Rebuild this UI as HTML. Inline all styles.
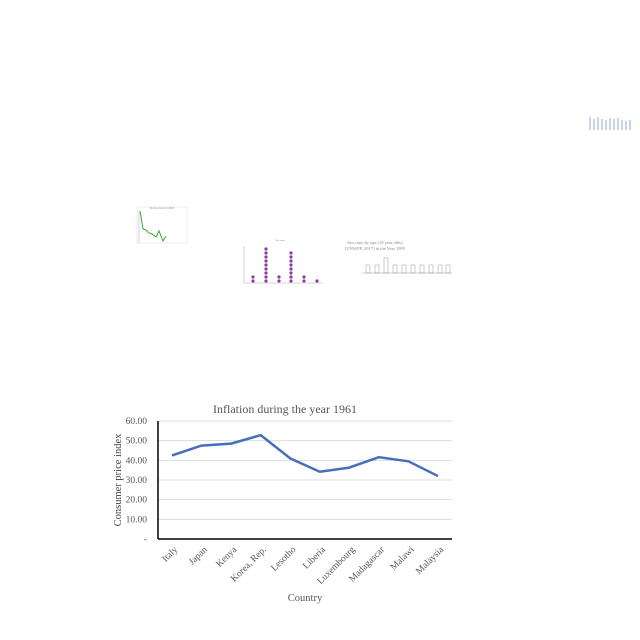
<!DOCTYPE html>
<html><head><meta charset="utf-8"><style>
body{margin:0;background:#fff;}
svg{display:block;font-family:"Liberation Serif",serif;}
</style></head><body>
<svg id="c" width="640" height="640">
  <g>
    <rect x="137" y="207" width="50" height="36" fill="#fff" stroke="#eee"/>
    <text x="162" y="209" font-size="3" text-anchor="middle" fill="#888">Stock prices in 2005</text>
    <line x1="139" y1="211" x2="139" y2="243" stroke="#aaa" stroke-width="0.5"/>
    <polyline points="140,211 143,229 146,230 149,233 152,234 156,237 159,231 163,241 166,236" fill="none" stroke="#3a3" stroke-width="1"/>
  </g>
  <g>
    <text x="280" y="241" font-size="2.5" text-anchor="middle" fill="#888">Dot chart</text>
    <line x1="244" y1="246" x2="244" y2="283" stroke="#aaa" stroke-width="0.5"/>
    <line x1="244" y1="283" x2="322" y2="283" stroke="#aaa" stroke-width="0.5"/>
    <g fill="#8a3aa0">
      <circle cx="253" cy="277" r="1.6"/><circle cx="253" cy="281" r="1.6"/>
      <circle cx="266" cy="249" r="1.6"/><circle cx="266" cy="253" r="1.6"/><circle cx="266" cy="257" r="1.6"/><circle cx="266" cy="261" r="1.6"/><circle cx="266" cy="265" r="1.6"/><circle cx="266" cy="269" r="1.6"/><circle cx="266" cy="273" r="1.6"/><circle cx="266" cy="277" r="1.6"/><circle cx="266" cy="281" r="1.6"/>
      <circle cx="279" cy="277" r="1.6"/><circle cx="279" cy="281" r="1.6"/>
      <circle cx="291" cy="253" r="1.6"/><circle cx="291" cy="257" r="1.6"/><circle cx="291" cy="261" r="1.6"/><circle cx="291" cy="265" r="1.6"/><circle cx="291" cy="269" r="1.6"/><circle cx="291" cy="273" r="1.6"/><circle cx="291" cy="277" r="1.6"/><circle cx="291" cy="281" r="1.6"/>
      <circle cx="304" cy="277" r="1.6"/><circle cx="304" cy="281" r="1.6"/>
      <circle cx="317" cy="281" r="1.6"/>
    </g>
  </g>
  <g>
    <text x="375" y="244" font-size="4.5" text-anchor="middle" fill="#888">Sex ratio by age (10 year olds)</text>
    <text x="375" y="250" font-size="4.5" text-anchor="middle" fill="#888">(UNWPP, 2017) in the Year 1995</text>
    <g fill="#fff" stroke="#999" stroke-width="0.5">
      <rect x="366" y="265" width="4" height="8"/><rect x="375" y="265" width="4" height="8"/><rect x="384" y="258" width="4" height="15"/><rect x="393" y="265" width="4" height="8"/><rect x="402" y="265" width="4" height="8"/><rect x="411" y="265" width="4" height="8"/><rect x="420" y="265" width="4" height="8"/><rect x="429" y="265" width="4" height="8"/><rect x="438" y="265" width="4" height="8"/><rect x="446" y="265" width="4" height="8"/>
    </g>
    <line x1="362" y1="273" x2="452" y2="273" stroke="#999" stroke-width="0.5"/>
  </g>
  <g>
    <g fill="#c8d4ec">
      <rect x="589" y="117" width="2" height="13"/><rect x="593" y="119" width="2" height="11"/><rect x="597" y="117" width="2" height="13"/><rect x="601" y="119" width="2" height="11"/><rect x="605" y="120" width="2" height="10"/><rect x="609" y="118" width="2" height="12"/><rect x="613" y="119" width="2" height="11"/><rect x="617" y="118" width="2" height="12"/><rect x="621" y="120" width="2" height="10"/><rect x="625" y="121" width="2" height="9"/><rect x="629" y="120" width="2" height="10"/>
    </g>
  </g>

  <text x="285" y="413" font-size="12" text-anchor="middle" fill="#555">Inflation during the year 1961</text>
  <g id="grid"></g>
  <g id="yticks" font-size="9.5" fill="#555" text-anchor="end"></g>
  <line x1="158" y1="421" x2="158" y2="539" stroke="#000" stroke-width="1.5"/>
  <line x1="158" y1="539" x2="452" y2="539" stroke="#000" stroke-width="1.5"/>
  <g id="xticks" font-size="9.5" fill="#555" text-anchor="end"></g>
  <path id="line" fill="none" stroke="#4570b8" stroke-width="2.5" stroke-linejoin="round"/>
  <text transform="translate(121,480) rotate(-90)" font-size="10.5" text-anchor="middle" fill="#444">Consumer price index</text>
  <text x="305" y="601" font-size="10.5" text-anchor="middle" fill="#555">Country</text>
</svg>
<script>
const categories=["Italy","Japan","Kenya","Korea, Rep.","Lesotho","Liberia","Luxembourg","Madagascar","Malawi","Malaysia"];
const values=[42.5,47.5,48.5,52.8,41.0,34.2,36.3,41.6,39.5,32.0];
const yTicks=[0,10,20,30,40,50,60];
const yTickLabels=["-","10.00","20.00","30.00","40.00","50.00","60.00"];
const NS="http://www.w3.org/2000/svg";
const y=v=>539-v*(118/60);
const x=i=>172+i*(266/9);
const grid=document.getElementById('grid'),yt=document.getElementById('yticks'),xt=document.getElementById('xticks');
yTicks.forEach((t,i)=>{
  if(t>0){const l=document.createElementNS(NS,'line');
  l.setAttribute('x1',158);l.setAttribute('x2',452);l.setAttribute('y1',y(t));l.setAttribute('y2',y(t));
  l.setAttribute('stroke','#ddd');
  
  
  grid.appendChild(l);}
  const tx=document.createElementNS(NS,'text');
  tx.setAttribute('x',147);tx.setAttribute('y',y(t)+3);tx.textContent=yTickLabels[i];
  
  
  yt.appendChild(tx);
});
categories.forEach((c,i)=>{
  const tx=document.createElementNS(NS,'text');
  tx.setAttribute('transform',`translate(${x(i)+6},${550}) rotate(-45)`);tx.textContent=c;
  
  
  xt.appendChild(tx);
});
document.getElementById('line').setAttribute('d',values.map((v,i)=>(i?'L':'M')+x(i)+','+y(v)).join(' '));
</script>
</body></html>
